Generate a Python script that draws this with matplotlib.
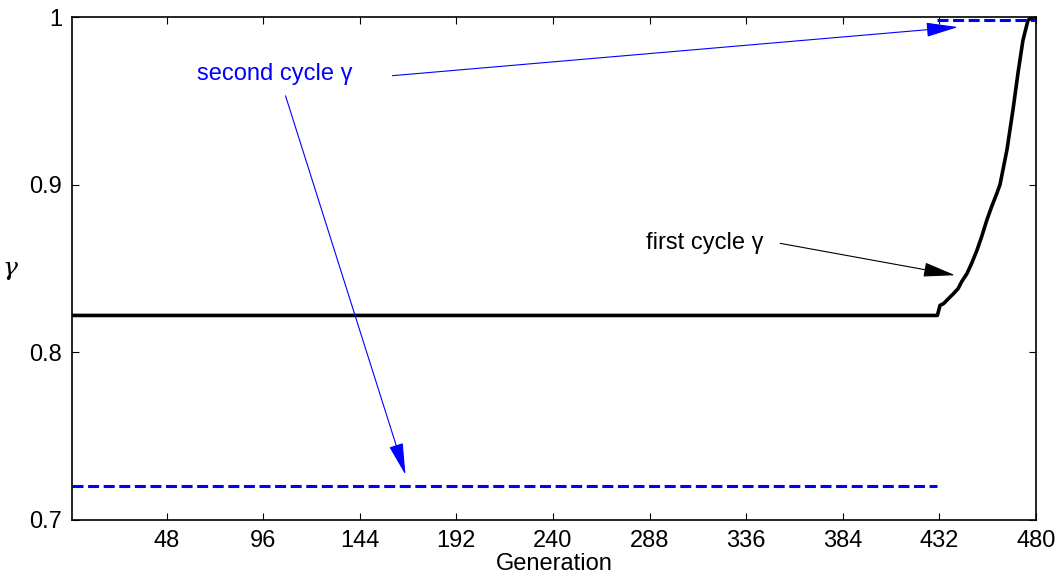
import numpy as np
import matplotlib
matplotlib.use('Agg')
import matplotlib.pyplot as plt

plt.rcParams['font.family'] = ['Liberation Sans', 'DejaVu Sans']

# first cycle gamma (black curve)
first_x = [1, 431, 432.3, 434, 437.3, 439, 441.3, 443, 445.7, 448, 450.7, 453, 455.6,
           458, 460.6, 462.1, 465.6, 468.6, 471.1, 473.5, 476, 478.5, 480]
first_y = [0.822, 0.822, 0.828, 0.829, 0.833, 0.835, 0.838, 0.842, 0.847, 0.853, 0.861,
           0.869, 0.879, 0.887, 0.895, 0.900, 0.921, 0.945, 0.967, 0.986, 0.998, 1.0, 1.0]

# second cycle gamma (blue dashed, two pieces)
second_low_x = [1, 431]
second_low_y = [0.72, 0.72]
second_high_x = [431, 480]
second_high_y = [0.998, 0.998]

xticks = [48, 96, 144, 192, 240, 288, 336, 384, 432, 480]
yticks = [0.7, 0.8, 0.9, 1.0]
ytick_labels = ['0.7', '0.8', '0.9', '1']

fig = plt.figure(figsize=(10.62, 5.75), dpi=100)
ax = fig.add_axes([72/1062, 1-520/575, (1036-72)/1062, (520-17)/575])

ax.plot(first_x, first_y, color='black', linewidth=2.6, solid_capstyle='butt')
ax.plot(second_low_x, second_low_y, color='blue', linewidth=2.2, linestyle=(0, (3.6, 1.5)))
ax.plot(second_high_x, second_high_y, color='blue', linewidth=2.2, linestyle=(0, (3.6, 1.5)))

ax.set_xlim(1, 480)
ax.set_ylim(0.7, 1.0)
ax.set_xticks(xticks)
ax.set_yticks(yticks)
ax.set_yticklabels(ytick_labels)
ax.tick_params(direction='in', top=True, right=True, labelsize=17, length=5, pad=7)
for s in ax.spines.values():
    s.set_linewidth(1.2)

ax.set_xlabel('Generation', fontsize=17, labelpad=1)
ax.set_ylabel('\u03b3', fontsize=18, rotation=0, labelpad=14, va='center',
              family='DejaVu Serif', style='italic')

# annotations
ax.text(63, 0.966, 'second cycle \u03b3', color='blue', fontsize=17, va='center', ha='left')
arrow_blue = dict(arrowstyle='-|>,head_length=2.0,head_width=0.45', color='blue', lw=0.8,
                  shrinkA=0, shrinkB=0)
ax.annotate('', xy=(441.2, 0.994), xytext=(160.2, 0.965), arrowprops=arrow_blue)
ax.annotate('', xy=(166.7, 0.727), xytext=(107.1, 0.953), arrowprops=arrow_blue)

ax.text(286, 0.865, 'first cycle \u03b3', color='black', fontsize=17, va='center', ha='left')
arrow_black = dict(arrowstyle='-|>,head_length=2.0,head_width=0.45', color='black', lw=0.8,
                   shrinkA=0, shrinkB=0)
ax.annotate('', xy=(439.8, 0.846), xytext=(352.9, 0.865), arrowprops=arrow_black)

fig.savefig('out.png', dpi=100)
